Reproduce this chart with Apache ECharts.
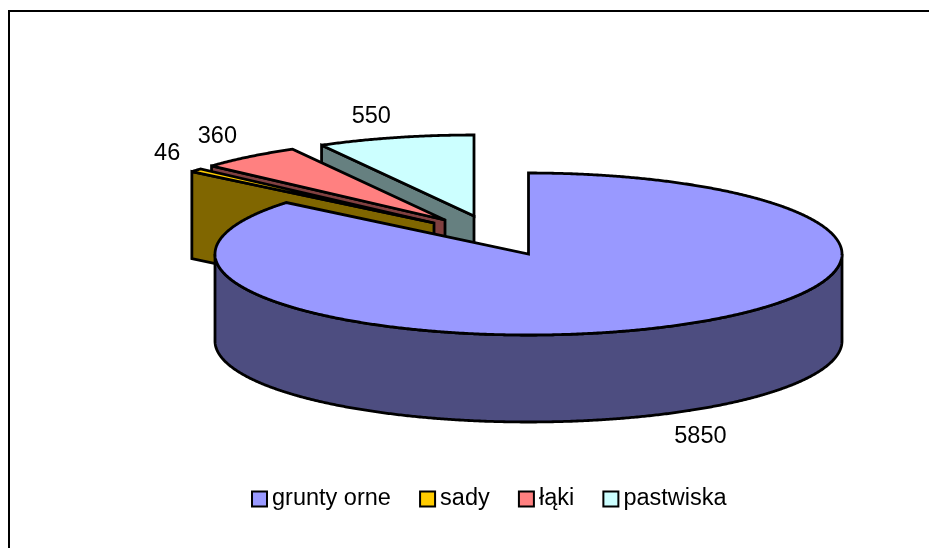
<!DOCTYPE html>
<html>
<head>
<meta charset="utf-8">
<style>html,body{margin:0;padding:0;background:#fff}#c{width:929px;height:548px}</style>
<script src="https://cdn.jsdelivr.net/npm/echarts@6/dist/echarts.min.js"></script>
</head>
<body>
<div id="c"></div>
<script>
// ---- data ----
const categories = ['grunty orne', 'sady', 'łąki', 'pastwiska'];
const values = [5850, 46, 360, 550];
const topColors = ['#9999FF', '#FFCC00', '#FF8080', '#CCFFFF'];
const wallColors = ['#4D4D80', '#806600', '#804040', '#668080'];

// ---- layout ----
const RX = 313.5, RY = 81, DEPTH = 87, FONT = 23.5;
const FONT_FAMILY = '"Liberation Sans", Arial, sans-serif';
const apexes = [[528.5, 254], [434, 223], [445, 220], [474, 216]];
const labelOffsets = [[38, 22], [-29, -17], [-32, -20], [-24, -21]];
const drawOrder = [3, 2, 1, 0];

const total = values.reduce((a, b) => a + b, 0);
function sweep(i) {
  let s = 0;
  for (let k = 0; k < i; k++) s += values[k];
  return [s / total * 2 * Math.PI, (s + values[i]) / total * 2 * Math.PI];
}
function pt(c, t, dy) {
  return [c[0] + RX * Math.sin(t), c[1] - RY * Math.cos(t) + (dy || 0)];
}
function arc(c, a, b, dy) {
  const n = Math.max(2, Math.ceil(Math.abs(b - a) / 0.006));
  const p = [];
  for (let k = 0; k <= n; k++) p.push(pt(c, a + (b - a) * k / n, dy));
  return p;
}
const edge = { stroke: '#000', lineWidth: 2.8, lineJoin: 'miter', miterLimit: 2.5 };
function poly(points, fill) {
  return { type: 'polygon', shape: { points }, style: Object.assign({ fill }, edge) };
}
function render(i) {
  return function (params, api) {
    const c = apexes[i];
    const [a, b] = sweep(i);
    const kids = [];
    const low = [c[0], c[1] + DEPTH];
    // cut faces
    if (Math.sin(a) < -1e-6) kids.push(poly([c, pt(c, a), pt(c, a, DEPTH), low], wallColors[i]));
    if (Math.sin(b) > 1e-6) kids.push(poly([c, pt(c, b), pt(c, b, DEPTH), low], wallColors[i]));
    // front rim
    const f0 = Math.max(a, Math.PI / 2), f1 = Math.min(b, Math.PI * 1.5);
    if (f1 > f0) {
      kids.push(poly(arc(c, f0, f1, 0).concat(arc(c, f1, f0, DEPTH)), wallColors[i]));
    }
    // top face
    kids.push(poly([c].concat(arc(c, a, b, 0)), topColors[i]));
    // value label
    const m = (a + b) / 2;
    const rim = pt(c, m, Math.cos(m) < 0 ? DEPTH : 0);
    kids.push({
      type: 'text',
      style: {
        text: String(api.value(0)),
        x: rim[0] + labelOffsets[i][0], y: rim[1] + labelOffsets[i][1],
        align: 'center', verticalAlign: 'middle',
        font: FONT + 'px ' + FONT_FAMILY, fill: '#000'
      }
    });
    return { type: 'group', children: kids };
  };
}

const chart = echarts.init(document.getElementById('c'), null, { renderer: 'canvas' });
chart.setOption({
  animation: false,
  backgroundColor: '#fff',
  graphic: [{
    type: 'polyline', silent: true, z: -1,
    shape: { points: [[9, 548], [9, 11], [929, 11]] },
    style: { stroke: '#000', lineWidth: 2, fill: null }
  }],
  legend: {
    left: 251, top: 487, orient: 'horizontal', padding: 0,
    itemWidth: 15, itemHeight: 15, itemGap: 28.2, icon: 'rect',
    textStyle: { fontSize: FONT, fontFamily: FONT_FAMILY, color: '#000' },
    data: categories.map((name, i) => ({
      name,
      itemStyle: { color: topColors[i], borderColor: '#000', borderWidth: 2 }
    }))
  },
  series: categories.map((name, i) => ({
    type: 'custom',
    name,
    coordinateSystem: 'none',
    z: 2 + drawOrder.indexOf(i),
    itemStyle: { color: topColors[i] },
    renderItem: render(i),
    data: [[values[i]]]
  }))
});
</script>
</body>
</html>
